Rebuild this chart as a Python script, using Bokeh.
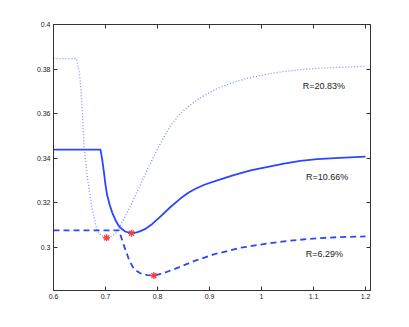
from bokeh.plotting import figure
from bokeh.models import Range1d, LinearAxis, FixedTicker, Label
from bokeh.embed import file_html
from bokeh.resources import INLINE

# R = 20.83% (dotted)
dot_x = [0.60, 0.644, 0.650, 0.653, 0.656, 0.659, 0.665, 0.674, 0.684, 0.693, 0.703, 0.713, 0.7225,
         0.735, 0.748, 0.760, 0.774, 0.787, 0.806, 0.825, 0.844, 0.857, 0.870, 0.883, 0.896, 0.915,
         0.934, 0.953, 0.9725, 1.011, 1.043, 1.075, 1.107, 1.15, 1.20]
dot_y = [0.3847, 0.3847, 0.3780, 0.3700, 0.3584, 0.3448, 0.3313, 0.3177, 0.3072, 0.3050, 0.3042, 0.3050, 0.3068,
         0.3125, 0.3185, 0.3245, 0.3315, 0.3380, 0.3468, 0.3545, 0.3600, 0.3628, 0.3650, 0.3671, 0.3689, 0.3712,
         0.3730, 0.3745, 0.3758, 0.3777, 0.3789, 0.3797, 0.3803, 0.3808, 0.3812]

# R = 10.66% (solid)
sol_x = [0.60, 0.6904, 0.6935, 0.6968, 0.700, 0.703, 0.708, 0.713, 0.719, 0.7256, 0.732, 0.738, 0.745,
         0.751, 0.760, 0.767, 0.777, 0.790, 0.806, 0.825, 0.844, 0.860, 0.873, 0.890, 0.915, 0.945,
         0.979, 1.017, 1.043, 1.075, 1.107, 1.15, 1.20]
sol_y = [0.3438, 0.3438, 0.3395, 0.3340, 0.3280, 0.3235, 0.3190, 0.3155, 0.3122, 0.3095, 0.3080, 0.3070, 0.3065,
         0.3063, 0.3066, 0.3072, 0.3082, 0.3104, 0.3138, 0.3180, 0.3218, 0.3245, 0.3262, 0.3280, 0.3300, 0.3322,
         0.3345, 0.3363, 0.3375, 0.3387, 0.3395, 0.3401, 0.3406]

# R = 6.29% (dashed)
das_x = [0.60, 0.726, 0.730, 0.735, 0.745, 0.7545, 0.767, 0.780, 0.793, 0.810, 0.831, 0.850, 0.870,
         0.908, 0.9596, 1.014, 1.043, 1.107, 1.15, 1.20]
das_y = [0.3075, 0.3075, 0.3045, 0.3010, 0.2945, 0.2902, 0.2882, 0.2874, 0.2872, 0.2882, 0.2900, 0.2918, 0.2937,
         0.2967, 0.2997, 0.3017, 0.3026, 0.3040, 0.3045, 0.3048]

# minima markers
min_x = [0.702, 0.750, 0.793]
min_y = [0.3042, 0.3062, 0.2872]

labels = ["R=20.83%", "R=10.66%", "R=6.29%"]
label_x = [1.12, 1.126, 1.121]
label_y = [0.3725, 0.3313, 0.2967]

x_ticks = [0.6, 0.7, 0.8, 0.9, 1.0, 1.1, 1.2]
x_tick_labels = ["0.6", "0.7", "0.8", "0.9", "1", "1.1", "1.2"]
y_ticks = [0.30, 0.32, 0.34, 0.36, 0.38, 0.40]
y_tick_labels = ["0.3", "0.32", "0.34", "0.36", "0.38", "0.4"]

p = figure(width=393, height=311, output_backend="svg", toolbar_location=None,
           x_range=Range1d(0.6, 1.2096), y_range=Range1d(0.2805, 0.4),
           min_border_left=53, min_border_top=24, min_border_right=23, min_border_bottom=21)
p.grid.visible = False
p.outline_line_color = "#333333"
p.background_fill_color = "white"
p.border_fill_color = "white"

FONT = "Liberation Sans"

def style_axis(ax, ticks, overrides, show_labels=True):
    ax.ticker = FixedTicker(ticks=ticks)
    ax.major_label_overrides = {t: s for t, s in zip(ticks, overrides)}
    ax.major_tick_in = 4
    ax.major_tick_out = 0
    ax.minor_tick_in = 0
    ax.minor_tick_out = 0
    ax.axis_line_color = "#333333"
    ax.major_tick_line_color = "#333333"
    ax.major_label_text_font = FONT
    ax.major_label_text_font_size = "7px" if show_labels else "0px"
    ax.major_label_text_color = "#222222"
    ax.major_label_standoff = 3 if show_labels else 0

style_axis(p.xaxis[0], x_ticks, x_tick_labels)
style_axis(p.yaxis[0], y_ticks, y_tick_labels)

top = LinearAxis()
right = LinearAxis()
style_axis(top, x_ticks, ["" for _ in x_ticks], show_labels=False)
style_axis(right, y_ticks, ["" for _ in y_ticks], show_labels=False)
p.add_layout(top, "above")
p.add_layout(right, "right")

blue = "#2a46ff"
p.line(dot_x, dot_y, line_color="#7f8fff", line_width=1.3, line_dash="1 2")
p.line(sol_x, sol_y, line_color=blue, line_width=1.8)
p.line(das_x, das_y, line_color=blue, line_width=1.8, line_dash="6 4")
p.scatter(min_x, min_y, marker="asterisk", size=7, line_color="#ff3b3b", line_width=1.3)

for t, lx, ly in zip(labels, label_x, label_y):
    p.add_layout(Label(x=lx, y=ly, text=t, text_font=FONT, text_font_size="9px",
                       text_color="#222222", text_align="center", text_baseline="middle"))

open("out.html", "w").write(file_html(p, INLINE))
